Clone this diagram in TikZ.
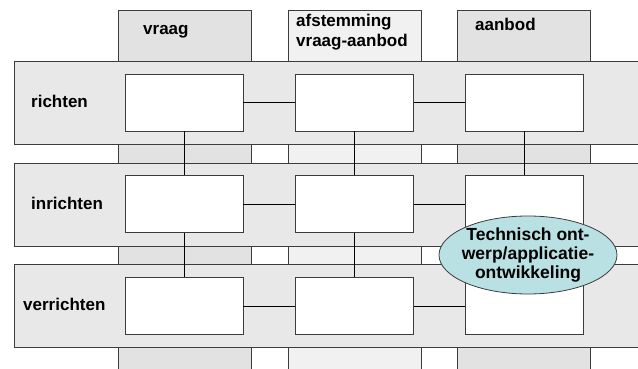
\documentclass[tikz,border=0pt]{standalone}
\usepackage{fontspec}
\setmainfont{Liberation Sans}[BoldFont={Liberation Sans Bold}]
\usepackage{tikz}
\usetikzlibrary{shapes.geometric, positioning}

\definecolor{bandgray}{RGB}{232,232,232}
\definecolor{colgray}{RGB}{226,226,226}
\definecolor{collight}{RGB}{241,241,241}
\definecolor{ovalfill}{RGB}{185,224,226}
\definecolor{rim}{RGB}{60,60,60}

\begin{document}
\begin{tikzpicture}[x=1pt, y=-1pt,
    column/.style={draw=rim, fill=colgray, line width=0.8pt, minimum width=133pt, minimum height=364pt, inner sep=0pt, anchor=north},
    band/.style={draw=rim, fill=bandgray, line width=0.8pt, minimum width=630pt, minimum height=83pt, inner sep=0pt, anchor=west},
    cell/.style={draw=rim, fill=white, line width=0.8pt, minimum width=118pt, minimum height=57pt, inner sep=0pt},
    txt/.style={font=\fontsize{17}{20}\selectfont\bfseries, inner sep=0pt},
    link/.style={draw=black, line width=0.7pt}]
      \useasboundingbox (0,0) rectangle (638,369);
      \node[column] (vraagcol) at (184.5,10) {};
      \node[column, fill=collight] (afstcol) at (354.5,10) {};
      \node[column] (aanbodcol) at (523.5,10) {};
      \node[txt, anchor=west] (vraaglbl) at (143,32) {vraag};
      \node[txt, anchor=west, align=left] (afstlbl) at (296,32) {afstemming\\vraag-aanbod};
      \node[txt, anchor=west] (aanbodlbl) at (475,24) {aanbod};
      \node[band] (richten) at (14,102.5) {};
      \node[band] (inrichten) at (14,204.5) {};
      \node[band] (verrichten) at (14,305.5) {};
      \node[txt, anchor=west] (richtenlbl) at (31,101) {richten};
      \node[txt, anchor=west] (inrichtenlbl) at (31,203) {inrichten};
      \node[txt, anchor=west] (verrichtenlbl) at (23,304) {verrichten};
      \node[cell] (rv) at (184,102.5) {};
      \node[cell] (ra) at (354.5,102.5) {};
      \node[cell] (rb) at (524.5,102.5) {};
      \node[cell] (iv) at (184,204) {};
      \node[cell] (ia) at (354.5,204) {};
      \node[cell] (ib) at (524.5,204) {};
      \node[cell] (vv) at (184,306) {};
      \node[cell] (va) at (354.5,306) {};
      \node[cell] (vb) at (524.5,306) {};
      \draw[link] (rv) -- (ra);
      \draw[link] (ra) -- (rb);
      \draw[link] (iv) -- (ia);
      \draw[link] (ia) -- (ib);
      \draw[link] (vv) -- (va);
      \draw[link] (va) -- (vb);
      \draw[link] (rv) -- (iv);
      \draw[link] (iv) -- (vv);
      \draw[link] (ra) -- (ia);
      \draw[link] (ia) -- (va);
      \draw[link] (rb) -- (ib);
      \node[ellipse, draw=rim, fill=ovalfill, line width=0.8pt, minimum width=178pt, minimum height=78pt,
        inner xsep=-5pt, inner ysep=0pt, align=center, font=\fontsize{17.5}{19}\selectfont\bfseries] (tech) at (528,255)
      {Technisch ont-\\werp/applicatie-\\ontwikkeling};
    \end{tikzpicture}
\end{document}
